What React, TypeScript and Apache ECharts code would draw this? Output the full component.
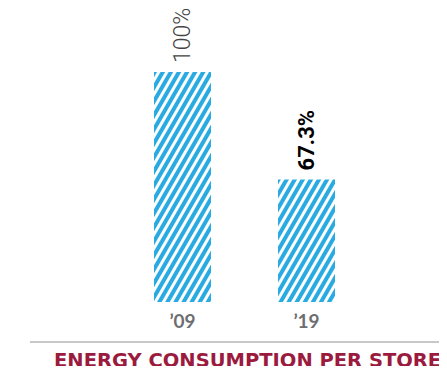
import React, { useEffect, useRef } from "react";
import * as echarts from "echarts";

const years = ["’09", "’19"];
const consumption = [100, 67.3];
const valueLabels = ["100%", "67.3%"];
const title = "ENERGY CONSUMPTION PER STORE";

const BLUE = "#29abe2";
const RED = "#9b1b3f";

export default function App() {
  const ref = useRef<HTMLDivElement>(null);

  useEffect(() => {
    if (!ref.current) return;
    const chart = echarts.init(ref.current, undefined, { renderer: "svg" });

    const data = consumption.map((v, i) => ({
      value: v,
      label: {
        formatter: valueLabels[i],
        fontWeight: i === 0 ? 300 : "bold",
        color: i === 0 ? "#444444" : "#000000",
        fontSize: i === 0 ? 23 : 22,
      },
    }));

    chart.setOption({
      animation: false,
      grid: { left: 120.5, right: 78.5, top: 72, bottom: 72 },
      xAxis: {
        type: "category",
        data: years,
        axisLine: { show: false },
        axisTick: { show: false },
        axisLabel: {
          color: "#6d6e71",
          fontFamily: "Lato",
          fontWeight: "bold",
          fontSize: 19,
          margin: 9,
        },
      },
      yAxis: {
        type: "value",
        min: 30,
        max: 100,
        show: false,
      },
      series: [
        {
          type: "bar",
          barWidth: 57,
          data,
          itemStyle: {
            color: "#ffffff",
            decal: {
              symbol: "rect",
              symbolSize: 1,
              color: BLUE,
              dashArrayX: [1, 0],
              dashArrayY: [3.4, 2.8],
              rotation: -Math.PI / 3,
            },
          },
          label: {
            show: true,
            position: "top",
            rotate: 90,
            align: "left",
            verticalAlign: "middle",
            distance: 9,
            fontFamily: "Roboto",
          },
        },
      ],
      graphic: [
        {
          type: "line",
          shape: { x1: 30, y1: 342, x2: 447, y2: 342 },
          style: { stroke: "#c8c8c8", lineWidth: 2 },
        },
        {
          type: "text",
          left: 54,
          top: 350,
          style: {
            text: title,
            fill: RED,
            font: "bold 19.5px 'DejaVu Sans'",
          },
        },
      ],
    });

    return () => chart.dispose();
  }, []);

  return <div ref={ref} style={{ width: 447, height: 374, margin: -8 }} />;
}
